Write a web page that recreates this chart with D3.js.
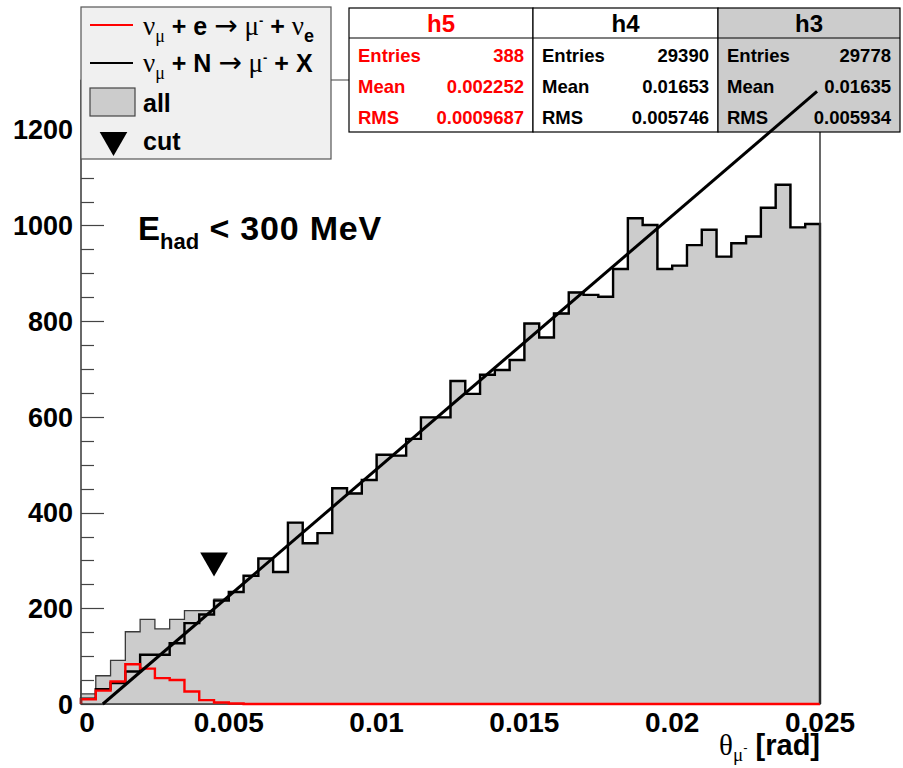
<!DOCTYPE html>
<html>
<head>
<meta charset="utf-8">
<script src="https://cdn.jsdelivr.net/npm/d3@7"></script>
<style>
html,body{margin:0;padding:0;background:#fff;}
svg{display:block;}
</style>
</head>
<body>
<svg id="chart" width="903" height="768"></svg>
<script>
// ---------------- data ----------------
const xDomain = [0, 0.025];
const binWidth = 0.0005;
// h3: all events (grey filled)
const hAll = [21,59,91,151,177,157,177,195,195,219,235,268,304,276,379,336,357,451,440,468,
              521,519,554,599,599,675,648,688,698,719,795,766,816,860,855,851,909,1015,1001,909,
              916,959,991,935,963,977,1037,1085,996,1003];
// h4: nu_mu + N -> mu- + X (black outline)
const hN = [11,31,44,68,103,103,127,169,187,216,234,268,304,276,379,336,357,451,440,468,
            521,519,554,599,599,675,648,688,698,719,795,766,816,860,855,851,909,1015,1001,909,
            916,959,991,935,963,977,1037,1085,996,1003];
// h5: nu_mu + e -> mu- + nu_e (red outline)
const hE = [10,28,47,83,74,54,50,26,8,3,1,0,0,0,0,0,0,0,0,0,
            0,0,0,0,0,0,0,0,0,0,0,0,0,0,0,0,0,0,0,0,
            0,0,0,0,0,0,0,0,0,0];
// straight-line fit
const fitX = [0.00074, 0.0249];
const fitY = [0, 1280];
// cut marker
const cutX = [0.0045];
const cutY = [300];
// axes
const yTicks = [0,200,400,600,800,1000,1200];
const yMinorStep = 50;
const xTicks = [0,0.005,0.01,0.015,0.02,0.025];
const xTickLabels = ["0","0.005","0.01","0.015","0.02","0.025"];
// stats boxes
const statNames   = ["h5","h4","h3"];
const statEntries = ["388","29390","29778"];
const statMean    = ["0.002252","0.01653","0.01635"];
const statRMS     = ["0.0009687","0.005746","0.005934"];
const statColors  = ["#ff0000","#000000","#000000"];
const statFills   = ["#ffffff","#ffffff","#cccccc"];

// ---------------- layout ----------------
const svg = d3.select("#chart");
const frame = {left:81, right:820, top:80, bottom:704};
const x = d3.scaleLinear().domain(xDomain).range([frame.left, frame.right]);
const y = d3.scaleLinear().domain([0, 1304]).range([frame.bottom, frame.top]);
const SANS = "'Liberation Sans', Arial, Helvetica, sans-serif";
const SERIF = "'Liberation Serif', 'DejaVu Serif', 'Times New Roman', serif";
const ARROW = "'DejaVu Sans', sans-serif";
const axisColor = "#444";

// frame
svg.append("rect").attr("x",frame.left).attr("y",frame.top)
   .attr("width",frame.right-frame.left).attr("height",frame.bottom-frame.top)
   .attr("fill","#fff").attr("stroke",axisColor).attr("stroke-width",1);

// y axis ticks (inside)
const yMinor = d3.range(0, 1304, yMinorStep);
svg.append("g").selectAll("line").data(yMinor).join("line")
  .attr("x1",frame.left).attr("x2",d=> (d%200===0)? frame.left+23 : frame.left+13)
  .attr("y1",d=>Math.round(y(d))+0.5).attr("y2",d=>Math.round(y(d))+0.5)
  .attr("stroke",axisColor).attr("stroke-width",1.2);
// x axis ticks (inside)
const xMinor = d3.range(0, 0.02501, 0.001);
svg.append("g").selectAll("line").data(xMinor).join("line")
  .attr("x1",d=>x(d)).attr("x2",d=>x(d))
  .attr("y1",frame.bottom).attr("y2",(d,i)=> i%5===0 ? frame.bottom-23 : frame.bottom-13)
  .attr("stroke",axisColor).attr("stroke-width",1.2);

// histogram step path builder
function stepPath(vals){
  let p = "M" + x(0) + "," + y(0);
  vals.forEach((v,i)=>{
    const x0 = x(i*binWidth), x1 = x((i+1)*binWidth);
    p += "L" + x0 + "," + y(v) + "L" + x1 + "," + y(v);
  });
  p += "L" + x(vals.length*binWidth) + "," + y(0);
  return p;
}
// h3 filled
svg.append("path").attr("d", stepPath(hAll)+"Z")
   .attr("fill","#cccccc").attr("stroke","#3a3a3a").attr("stroke-width",1.3);
// h4 black
svg.append("path").attr("d", stepPath(hN))
   .attr("fill","none").attr("stroke","#000").attr("stroke-width",2.4);
// h5 red
svg.append("path").attr("d", stepPath(hE))
   .attr("fill","none").attr("stroke","#ff0000").attr("stroke-width",2.4);

// axis lines on top
svg.append("line").attr("x1",frame.left).attr("x2",frame.left)
   .attr("y1",frame.top).attr("y2",frame.bottom).attr("stroke",axisColor).attr("stroke-width",1.2);
svg.append("line").attr("x1",frame.right).attr("x2",frame.right)
   .attr("y1",frame.top).attr("y2",frame.bottom).attr("stroke",axisColor).attr("stroke-width",1.2);

// tick labels
svg.append("g").selectAll("text").data(yTicks).join("text")
  .attr("x",73).attr("y",d=>y(d)).attr("dy","0.36em")
  .attr("text-anchor","end").attr("font-family",SANS).attr("font-weight","bold")
  .attr("font-size",27).text(d=>d);
svg.append("g").selectAll("text").data(xTicks).join("text")
  .attr("x",(d,i)=> i===0 ? x(d)+6 : x(d)).attr("y",732)
  .attr("text-anchor","middle").attr("font-family",SANS).attr("font-weight","bold")
  .attr("font-size",28).text((d,i)=>xTickLabels[i]);

// x axis title
const xt = svg.append("text").attr("x",820).attr("y",755).attr("text-anchor","end")
  .attr("font-size",29);
xt.append("tspan").attr("font-family",SERIF).text("θ");
xt.append("tspan").attr("font-family",SERIF).attr("font-size",19).attr("dy",6).text("μ");
xt.append("tspan").attr("font-family",SANS).attr("font-size",13).attr("dy",-9).text("-");
xt.append("tspan").attr("font-family",SANS).attr("font-weight","bold").attr("dy",3).text(" [rad]");

// E_had label
const et = svg.append("text").attr("x",138).attr("y",240)
  .attr("font-family",SANS).attr("font-weight","bold").attr("font-size",33);
et.append("tspan").text("E");
et.append("tspan").attr("font-size",22).attr("dy",9).text("had");
et.append("tspan").attr("dy",-9).attr("font-size",34).attr("letter-spacing",0.8).text(" < 300 MeV");

// cut marker
const tri = d3.symbol().type(d3.symbolTriangle).size(330);
svg.append("path").attr("d",tri)
  .attr("transform",`translate(${x(cutX[0])},${y(cutY[0])}) rotate(180)`)
  .attr("fill","#000");

// ---------------- legend ----------------
const lg = svg.append("g");
lg.append("rect").attr("x",81).attr("y",7).attr("width",250).attr("height",152)
  .attr("fill","#f0f0f0").attr("stroke","#555").attr("stroke-width",1.2);
const rowY = [25, 63, 102, 140];
lg.append("line").attr("x1",90).attr("x2",133).attr("y1",rowY[0]).attr("y2",rowY[0])
  .attr("stroke","#ff0000").attr("stroke-width",2);
lg.append("line").attr("x1",90).attr("x2",133).attr("y1",rowY[1]).attr("y2",rowY[1])
  .attr("stroke","#000").attr("stroke-width",2);
lg.append("rect").attr("x",90).attr("y",88).attr("width",45).attr("height",28)
  .attr("fill","#cccccc").attr("stroke","#444").attr("stroke-width",1.2);
lg.append("path").attr("d",d3.symbol().type(d3.symbolTriangle).size(330))
  .attr("transform",`translate(113.5,${rowY[3]}) rotate(180)`).attr("fill","#000");

function reactionText(yb, target, last, lastSub){
  const t = lg.append("text").attr("x",143).attr("y",yb).attr("font-size",25)
     .attr("font-family",SANS).attr("font-weight","bold");
  t.append("tspan").attr("font-family",SERIF).attr("font-weight","normal").attr("font-size",27).text("ν");
  t.append("tspan").attr("font-family",SERIF).attr("font-weight","normal").attr("font-size",18).attr("dy",7).text("μ");
  t.append("tspan").attr("dy",-7).text(" + " + target + " ");
  t.append("tspan").attr("font-family",ARROW).attr("font-weight","normal").attr("font-size",28).text("→");
  t.append("tspan").attr("font-family",SERIF).attr("font-weight","normal").attr("font-size",27).text(" μ");
  t.append("tspan").attr("font-size",13).attr("dy",-10).text("-");
  t.append("tspan").attr("dy",10).text(" + ");
  if(lastSub){
    t.append("tspan").attr("font-family",SERIF).attr("font-weight","normal").attr("font-size",27).text(last);
    t.append("tspan").attr("font-size",18).attr("dy",7).text(lastSub);
  } else {
    t.append("tspan").text(last);
  }
}
reactionText(35, "e", "ν", "e");
reactionText(72, "N", "X", "");
lg.append("text").attr("x",143).attr("y",112).attr("font-family",SANS).attr("font-weight","bold")
  .attr("font-size",25).text("all");
lg.append("text").attr("x",143).attr("y",150).attr("font-family",SANS).attr("font-weight","bold")
  .attr("font-size",25).text("cut");

// ---------------- stats boxes ----------------
const boxX = [349, 533, 718, 900];
const sg = svg.append("g");
statNames.forEach((nm,i)=>{
  const x0 = boxX[i], x1 = boxX[i+1];
  sg.append("rect").attr("x",x0).attr("y",8).attr("width",x1-x0).attr("height",124)
    .attr("fill",statFills[i]).attr("stroke","#000").attr("stroke-width",1.2);
  sg.append("line").attr("x1",x0).attr("x2",x1).attr("y1",38).attr("y2",38)
    .attr("stroke","#000").attr("stroke-width",1.2);
  sg.append("text").attr("x",(x0+x1)/2).attr("y",23).attr("dy","0.36em")
    .attr("text-anchor","middle").attr("font-family",SANS).attr("font-weight","bold")
    .attr("font-size",24).attr("fill",statColors[i]).text(nm);
  const rows = [["Entries",statEntries[i]],["Mean",statMean[i]],["RMS",statRMS[i]]];
  const ry = [55, 86, 117];
  rows.forEach((r,j)=>{
    sg.append("text").attr("x",x0+9).attr("y",ry[j]).attr("dy","0.36em")
      .attr("font-family",SANS).attr("font-weight","bold").attr("font-size",18.5)
      .attr("fill",statColors[i]).text(r[0]);
    sg.append("text").attr("x",x1-9).attr("y",ry[j]).attr("dy","0.36em")
      .attr("text-anchor","end").attr("font-family",SANS).attr("font-weight","bold")
      .attr("font-size",18.5).attr("fill",statColors[i]).text(r[1]);
  });
});

// fit line (drawn on top)
svg.append("line")
  .attr("x1",x(fitX[0])).attr("y1",y(fitY[0]))
  .attr("x2",x(fitX[1])).attr("y2",y(fitY[1]))
  .attr("stroke","#000").attr("stroke-width",3);
</script>
</body>
</html>
